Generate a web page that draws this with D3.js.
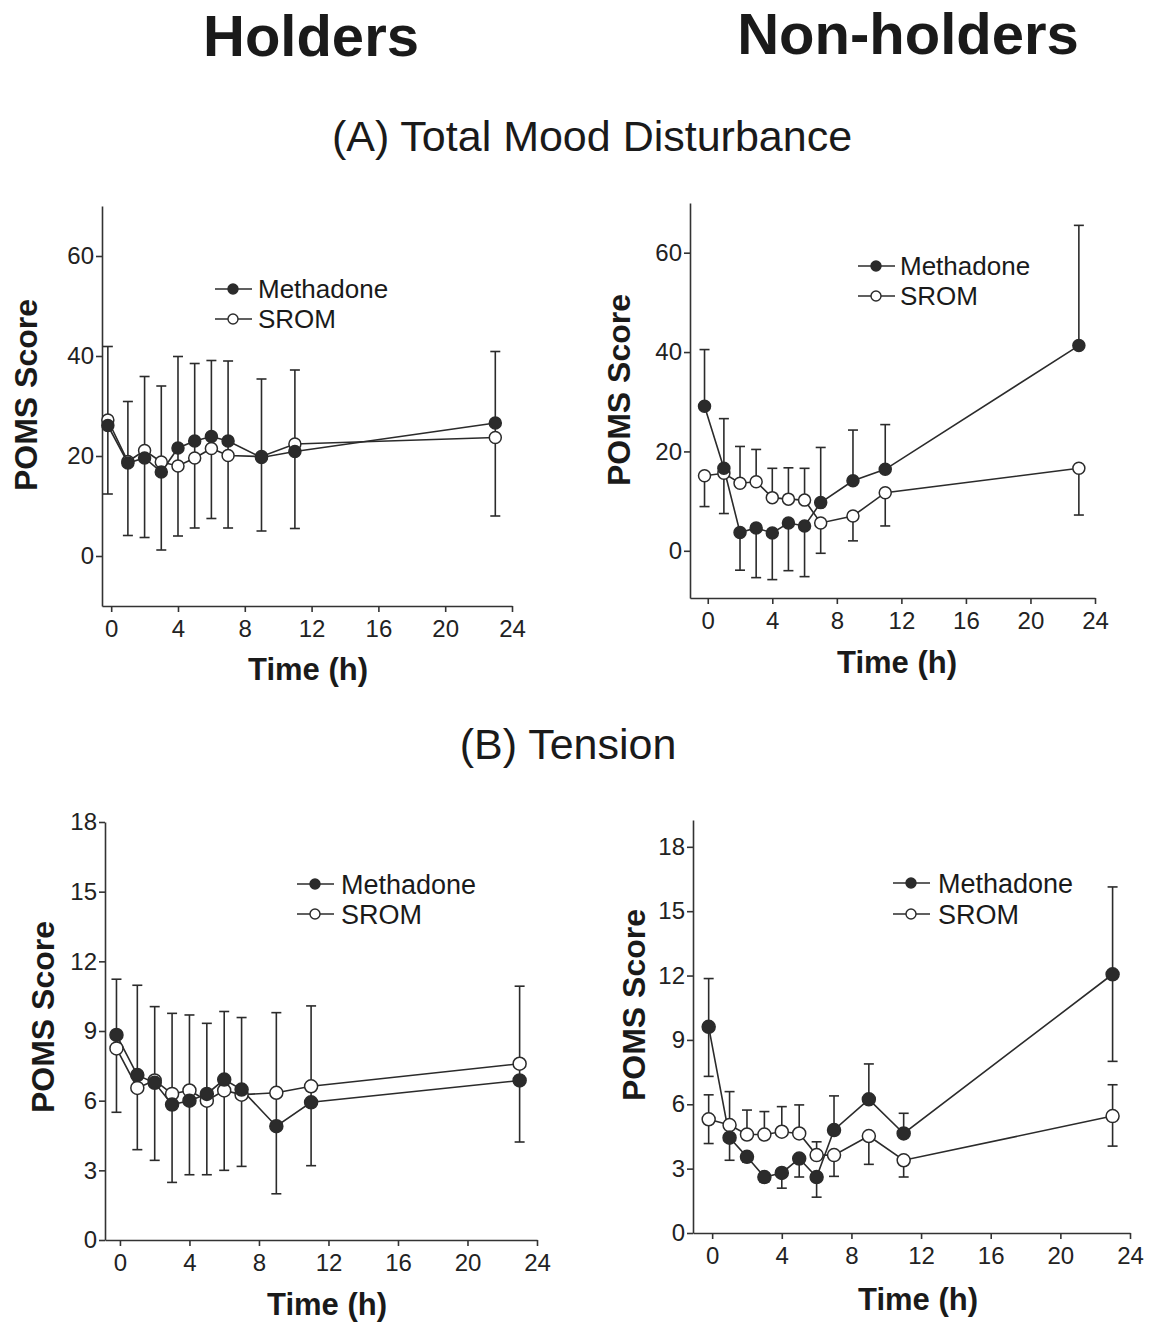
<!DOCTYPE html>
<html>
<head>
<meta charset="utf-8">
<script src="https://cdn.jsdelivr.net/npm/d3@7"></script>
<style>
  body { margin: 0; background: #fff; }
  svg { display: block; }
  .tick text { font-family: "Liberation Sans", Arial, sans-serif; font-size: 24px; fill: #222; }
  .domain, .tick line { stroke: #333; stroke-width: 1.6px; }
</style>
</head>
<body>
<svg width="1152" height="1324"></svg>
<script>
// time points (h) -- first one is the pre-dose reading, drawn just left of 0
var hours = [-0.2, 1, 2, 3, 4, 5, 6, 7, 9, 11, 23];
var xTicks = [0, 4, 8, 12, 16, 20, 24];

// (A) Total Mood Disturbance, holders
var tmdHoldMeth   = [26.1, 18.6, 19.6, 16.8, 21.6, 23.0, 23.9, 23.0, 19.7, 20.9, 26.6];
var tmdHoldSrom   = [27.2, 18.9, 21.1, 18.8, 18.0, 19.6, 21.5, 20.1, 19.9, 22.4, 23.7];
var tmdHoldErrHi  = [41.9, 30.9, 35.9, 34.0, 39.9, 38.5, 39.1, 39.0, 35.4, 37.2, 40.9];
var tmdHoldErrLo  = [12.4, 4.1, 3.7, 1.2, 4.0, 5.6, 7.5, 5.6, 5.0, 5.5, 8.0];

// (A) Total Mood Disturbance, non-holders
var tmdNonMeth    = [29.1, 16.6, 3.7, 4.6, 3.6, 5.6, 5.0, 9.7, 14.1, 16.4, 41.3];
var tmdNonMethHi  = [40.5, 26.6, null, null, null, null, null, 20.8, 24.3, 25.4, 65.5];
var tmdNonMethLo  = [null, null, -3.9, -5.4, -5.8, -4.0, -5.2, null, null, null, null];
var tmdNonSrom    = [15.1, 15.6, 13.6, 13.9, 10.7, 10.4, 10.2, 5.6, 7.0, 11.7, 16.6];
var tmdNonSromHi  = [null, null, 21.0, 20.4, 16.6, 16.7, 16.6, null, null, null, null];
var tmdNonSromLo  = [8.9, 7.5, null, null, null, null, null, -0.5, 2.0, 5.0, 7.2];

// (B) Tension, holders
var tenHoldMeth   = [8.83, 7.1, 6.77, 5.83, 6.0, 6.29, 6.91, 6.48, 4.9, 5.93, 6.87];
var tenHoldSrom   = [8.25, 6.55, 6.87, 6.29, 6.44, 6.0, 6.44, 6.26, 6.34, 6.62, 7.59];
var tenHoldErrHi  = [11.23, 10.97, 10.05, 9.76, 9.69, 9.33, 9.84, 9.58, 9.79, 10.08, 10.93];
var tenHoldErrLo  = [5.5, 3.89, 3.43, 2.48, 2.81, 2.81, 3.0, 3.17, 1.99, 3.2, 4.22];

// (B) Tension, non-holders
var tenNonMeth    = [9.61, 4.44, 3.55, 2.61, 2.8, 3.47, 2.61, 4.8, 6.23, 4.64, 12.06];
var tenNonMethHi  = [11.86, null, null, null, null, null, null, 6.39, 7.88, 5.58, 16.13];
var tenNonMethLo  = [7.3, 3.39, 3.31, 2.38, 2.09, 2.61, 1.67, null, null, null, 8.0];
var tenNonSrom    = [5.3, 5.03, 4.59, 4.59, 4.72, 4.64, 3.63, 3.63, 4.52, 3.39, 5.45];
var tenNonSromHi  = [6.44, 6.59, 5.73, 5.66, 5.89, 5.97, 4.25, null, null, null, 6.91];
var tenNonSromLo  = [4.17, null, null, null, null, null, null, 2.64, 3.2, 2.61, 4.05];

var nulls = hours.map(function(){ return null; });

var svg = d3.select("svg");
var ink = "#2b2b2b";

// big headings
function heading(txt, x, y, size, weight){
	svg.append("text")
		.attr("x", x).attr("y", y)
		.attr("text-anchor", "middle")
		.style("font-family", "Liberation Sans, Arial, sans-serif")
		.style("font-size", size + "px")
		.style("font-weight", weight)
		.style("fill", "#1a1a1a")
		.text(txt);
}
heading("Holders", 311, 56, 58, "bold");
heading("Non-holders", 908, 54, 58, "bold");
heading("(A) Total Mood Disturbance", 592, 151, 43, "normal");
heading("(B) Tension", 568, 759, 43, "normal");

var panels = [
	{ left: 102, right: 512, xDom: [-0.55, 24], top: 206, bottom: 606, yDom: [-10, 70], yTicks: [0, 20, 40, 60],
	  meth: tmdHoldMeth, methHi: tmdHoldErrHi, methLo: tmdHoldErrLo,
	  srom: tmdHoldSrom, sromHi: nulls, sromLo: nulls,
	  yLab: [26, 395], xLab: [308, 680], legend: [215, 289, 319, 258], lfs: 26, r: 6 },
	{ left: 690, right: 1095, xDom: [-1.1, 24], top: 203, bottom: 598, yDom: [-9.5, 70], yTicks: [0, 20, 40, 60],
	  meth: tmdNonMeth, methHi: tmdNonMethHi, methLo: tmdNonMethLo,
	  srom: tmdNonSrom, sromHi: tmdNonSromHi, sromLo: tmdNonSromLo,
	  yLab: [619, 390], xLab: [897, 673], legend: [858, 266, 296, 900], lfs: 26, r: 6 },
	{ left: 105, right: 537, xDom: [-0.86, 24], top: 822, bottom: 1240, yDom: [0, 18], yTicks: [0, 3, 6, 9, 12, 15, 18],
	  meth: tenHoldMeth, methHi: tenHoldErrHi, methLo: tenHoldErrLo,
	  srom: tenHoldSrom, sromHi: nulls, sromLo: nulls,
	  yLab: [43, 1017], xLab: [327, 1315], legend: [297, 884, 914, 341], lfs: 27, r: 6.5 },
	{ left: 693, right: 1130, xDom: [-1.1, 24], top: 820, bottom: 1233, yDom: [0, 19.25], yTicks: [0, 3, 6, 9, 12, 15, 18],
	  meth: tenNonMeth, methHi: tenNonMethHi, methLo: tenNonMethLo,
	  srom: tenNonSrom, sromHi: tenNonSromHi, sromLo: tenNonSromLo,
	  yLab: [634, 1005], xLab: [918, 1310], legend: [893, 883, 914, 938], lfs: 27, r: 6.5 }
];

panels.forEach(drawPanel);

function drawPanel(p){
	var x = d3.scaleLinear().domain(p.xDom).range([p.left, p.right]);
	var y = d3.scaleLinear().domain(p.yDom).range([p.bottom, p.top]);
	var g = svg.append("g");

	g.append("g")
		.attr("transform", "translate(" + p.left + ",0)")
		.call(d3.axisLeft(y).tickValues(p.yTicks).tickSize(6).tickSizeOuter(0).tickPadding(2));

	g.append("g")
		.attr("transform", "translate(0," + p.bottom + ")")
		.call(d3.axisBottom(x).tickValues(xTicks).tickSize(6).tickSizeOuter(0).tickPadding(8));

	g.append("text")
		.attr("transform", "translate(" + p.yLab[0] + "," + p.yLab[1] + ") rotate(-90)")
		.attr("text-anchor", "middle")
		.attr("dy", "0.35em")
		.style("font-family", "Liberation Sans, Arial, sans-serif")
		.style("font-size", "32px").style("font-weight", "bold").style("fill", "#1a1a1a")
		.text("POMS Score");

	g.append("text")
		.attr("x", p.xLab[0]).attr("y", p.xLab[1])
		.attr("text-anchor", "middle")
		.style("font-family", "Liberation Sans, Arial, sans-serif")
		.style("font-size", "31px").style("font-weight", "bold").style("fill", "#1a1a1a")
		.text("Time (h)");

	var series = [
		{ vals: p.srom, hi: p.sromHi, lo: p.sromLo, fill: "#fff" },
		{ vals: p.meth, hi: p.methHi, lo: p.methLo, fill: "#2b2b2b" }
	];

	// error bars
	series.forEach(function(s){
		var bars = [];
		hours.forEach(function(h, i){
			if(s.hi[i] != null) bars.push({ h: h, from: s.vals[i], to: s.hi[i] });
			if(s.lo[i] != null) bars.push({ h: h, from: s.vals[i], to: s.lo[i] });
		});
		var eb = g.append("g").attr("stroke", ink).attr("stroke-width", 1.6);
		eb.selectAll(".v").data(bars).enter().append("line")
			.attr("x1", function(d){ return x(d.h); })
			.attr("x2", function(d){ return x(d.h); })
			.attr("y1", function(d){ return y(d.from); })
			.attr("y2", function(d){ return y(d.to); });
		eb.selectAll(".c").data(bars).enter().append("line")
			.attr("x1", function(d){ return x(d.h) - 5; })
			.attr("x2", function(d){ return x(d.h) + 5; })
			.attr("y1", function(d){ return y(d.to); })
			.attr("y2", function(d){ return y(d.to); });
	});

	var line = d3.line()
		.x(function(d, i){ return x(hours[i]); })
		.y(function(d){ return y(d); });

	series.forEach(function(s){
		g.append("path")
			.attr("d", line(s.vals))
			.attr("fill", "none")
			.attr("stroke", ink)
			.attr("stroke-width", 1.6);
	});

	series.forEach(function(s){
		g.selectAll(null).data(s.vals).enter().append("circle")
			.attr("cx", function(d, i){ return x(hours[i]); })
			.attr("cy", function(d){ return y(d); })
			.attr("r", p.r)
			.attr("fill", s.fill)
			.attr("stroke", ink)
			.attr("stroke-width", 1.5);
	});

	// legend
	var lg = p.legend;
	[["Methadone", lg[1], "#2b2b2b"], ["SROM", lg[2], "#fff"]].forEach(function(e){
		g.append("line")
			.attr("x1", lg[0]).attr("x2", lg[0] + 37)
			.attr("y1", e[1]).attr("y2", e[1])
			.attr("stroke", ink).attr("stroke-width", 1.6);
		g.append("circle")
			.attr("cx", lg[0] + 18).attr("cy", e[1]).attr("r", 5)
			.attr("fill", e[2]).attr("stroke", ink).attr("stroke-width", 1.4);
		g.append("text")
			.attr("x", lg[3]).attr("y", e[1]).attr("dy", "0.36em")
			.style("font-family", "Liberation Sans, Arial, sans-serif")
			.style("font-size", p.lfs + "px").style("fill", "#1a1a1a")
			.text(e[0]);
	});
}
</script>
</body>
</html>
